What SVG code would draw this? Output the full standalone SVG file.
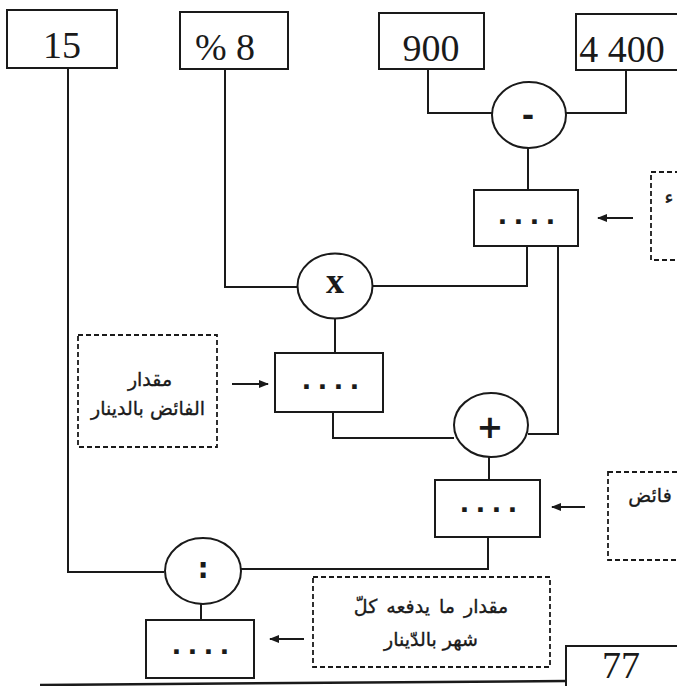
<svg xmlns="http://www.w3.org/2000/svg" width="677" height="686" viewBox="0 0 677 686">
<style>
.box{fill:#fff;stroke:#1a1a1a;stroke-width:2}
.op{fill:#fff;stroke:#1a1a1a;stroke-width:2}
.dash{fill:none;stroke:#1a1a1a;stroke-width:1.8;stroke-dasharray:5 3}
.wire{fill:none;stroke:#1a1a1a;stroke-width:2}
.arr{fill:none;stroke:#1a1a1a;stroke-width:2}
.num{font-family:"Liberation Serif",serif;font-size:38px;fill:#1a1a1a;text-anchor:middle}
.ar{font-family:"DejaVu Sans","Noto Sans",sans-serif;font-size:19px;fill:#1a1a1a;stroke:#1a1a1a;stroke-width:0.35;text-anchor:middle}
.dots{font-family:"Liberation Sans",sans-serif;font-size:32px;font-weight:bold;fill:#1a1a1a;letter-spacing:7.1px}
.sym{font-family:"DejaVu Sans",sans-serif;font-weight:bold;fill:#1a1a1a;text-anchor:middle}
</style>
<defs>
<marker id="ah" viewBox="0 0 10 10" refX="9" refY="5" markerWidth="5" markerHeight="5" orient="auto" markerUnits="strokeWidth">
<path d="M0,1 L10,5 L0,9 Z" fill="#1a1a1a"/>
</marker>
</defs>
<rect width="677" height="686" fill="#fff"/>

<g id="connectors">
<polyline class="wire" points="68,68 68,572 164,572"/>
<polyline class="wire" points="225,69 225,287 298,287"/>
<polyline class="wire" points="428,69 428,113 492,113"/>
<polyline class="wire" points="626,70 626,113 566,113"/>
<line class="wire" x1="528" y1="148" x2="528" y2="190"/>
<polyline class="wire" points="527,246 527,286 373,286"/>
<polyline class="wire" points="558,246 558,434 528,434"/>
<line class="wire" x1="335" y1="318" x2="335" y2="353"/>
<polyline class="wire" points="333,412 333,438 454,438"/>
<line class="wire" x1="489" y1="457" x2="489" y2="480"/>
<polyline class="wire" points="488,537 488,569 241,569"/>
<line class="wire" x1="201" y1="604" x2="201" y2="620"/>
<line class="arr" x1="633" y1="218" x2="598" y2="218" marker-end="url(#ah)"/>
<line class="arr" x1="232" y1="384" x2="268" y2="384" marker-end="url(#ah)"/>
<line class="arr" x1="585" y1="507" x2="552" y2="507" marker-end="url(#ah)"/>
<line class="arr" x1="304" y1="639" x2="270" y2="639" marker-end="url(#ah)"/>
<line x1="40" y1="685" x2="566" y2="681" stroke="#1a1a1a" stroke-width="2.5"/>
</g>

<g id="n15"><rect class="box" x="7" y="10" width="110" height="58"/><text class="num" x="62" y="58">15</text></g>
<g id="n8"><rect class="box" x="180" y="12" width="108" height="57"/><text class="num" x="225" y="60">% 8</text></g>
<g id="n900"><rect class="box" x="379" y="13" width="105" height="56"/><text class="num" x="431" y="61">900</text></g>
<g id="n4400"><rect class="box" x="576" y="14" width="120" height="56"/><text class="num" x="622" y="62">4 400</text></g>

<g id="minus"><ellipse class="op" cx="529" cy="115" rx="37" ry="33"/><text class="sym" x="528" y="126" font-size="30">-</text></g>
<g id="r1"><rect class="box" x="474" y="190" width="104" height="56"/><text class="dots" x="498" y="224">....</text></g>
<g id="lab1"><rect class="dash" x="651" y="172" width="40" height="88"/><text class="ar" x="669" y="204">ء</text></g>

<g id="times"><ellipse class="op" cx="335" cy="286" rx="37.5" ry="32.5"/><text x="335" y="293" font-family="Liberation Serif,serif" font-weight="bold" font-size="36" text-anchor="middle" fill="#1a1a1a">x</text></g>
<g id="r2"><rect class="box" x="275" y="353" width="108" height="59"/><text class="dots" x="302" y="389">....</text></g>
<g id="lab2"><rect class="dash" x="78" y="335" width="139" height="112"/><text class="ar" x="150" y="386">مقدار</text><text class="ar" x="148" y="415">الفائض بالدينار</text></g>

<g id="plus"><ellipse class="op" cx="491" cy="425" rx="37" ry="32"/><text class="sym" x="490" y="438" font-size="32">+</text></g>
<g id="r3"><rect class="box" x="435" y="480" width="105" height="57"/><text class="dots" x="460" y="512">....</text></g>
<g id="lab3"><rect class="dash" x="608" y="472" width="90" height="88"/><text class="ar" x="650" y="502">فائض</text></g>

<g id="div"><ellipse class="op" cx="203" cy="571" rx="38" ry="33"/><text class="sym" x="203" y="578" font-size="28">:</text></g>
<g id="r4"><rect class="box" x="146" y="620" width="108" height="58"/><text class="dots" x="172" y="654">....</text></g>
<g id="lab4"><rect class="dash" x="313" y="577" width="237" height="90"/><text class="ar" x="431" y="613" word-spacing="3">مقدار ما يدفعه كلّ</text><text class="ar" x="431" y="646">شهر بالدّينار</text></g>

<g id="n77"><rect class="box" x="566" y="646" width="130" height="60"/><text class="num" x="621" y="678" font-size="36">77</text></g>
</svg>
